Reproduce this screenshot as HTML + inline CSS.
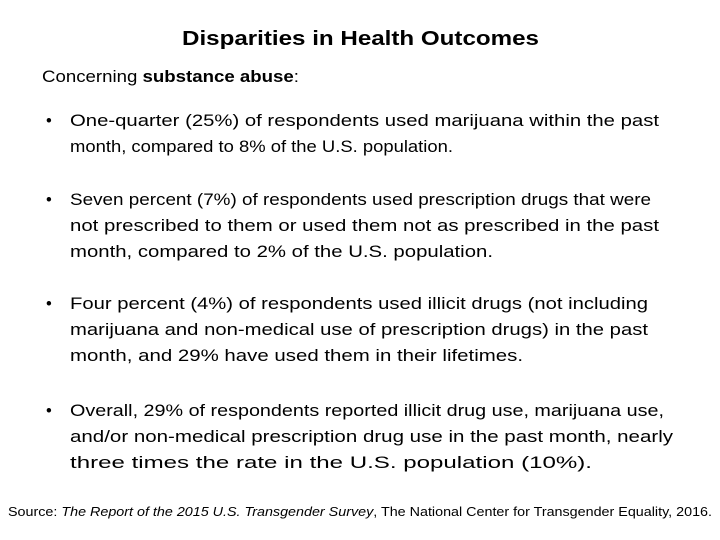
<!DOCTYPE html>
<html><head><meta charset="utf-8"><style>
html,body{margin:0;padding:0;background:#fff;}
svg{display:block;}
text{font-family:"Liberation Sans",sans-serif;fill:#000;}
</style></head><body>
<svg width="720" height="540" viewBox="0 0 720 540">
<text x="182" y="45" font-size="20.5" font-weight="bold" textLength="357" lengthAdjust="spacingAndGlyphs">Disparities in Health Outcomes</text>
<text x="42" y="82" font-size="16.5" textLength="257" lengthAdjust="spacingAndGlyphs">Concerning <tspan font-weight="bold">substance abuse</tspan>:</text>
<g font-size="16.5">
<text x="46" y="126">•</text>
<text x="70" y="126" textLength="589" lengthAdjust="spacingAndGlyphs">One-quarter (25%) of respondents used marijuana within the past</text>
<text x="70" y="152" textLength="383" lengthAdjust="spacingAndGlyphs">month, compared to 8% of the U.S. population.</text>
</g>
<g font-size="16.5">
<text x="46" y="205">•</text>
<text x="70" y="205" textLength="581" lengthAdjust="spacingAndGlyphs">Seven percent (7%) of respondents used prescription drugs that were</text>
<text x="70" y="231" textLength="589" lengthAdjust="spacingAndGlyphs">not prescribed to them or used them not as prescribed in the past</text>
<text x="70" y="257" textLength="423" lengthAdjust="spacingAndGlyphs">month, compared to 2% of the U.S. population.</text>
</g>
<g font-size="16.5">
<text x="46" y="309">•</text>
<text x="70" y="309" textLength="578" lengthAdjust="spacingAndGlyphs">Four percent (4%) of respondents used illicit drugs (not including</text>
<text x="70" y="335" textLength="578" lengthAdjust="spacingAndGlyphs">marijuana and non-medical use of prescription drugs) in the past</text>
<text x="70" y="361" textLength="453" lengthAdjust="spacingAndGlyphs">month, and 29% have used them in their lifetimes.</text>
</g>
<g font-size="16.5">
<text x="46" y="416">•</text>
<text x="70" y="416" textLength="594" lengthAdjust="spacingAndGlyphs">Overall, 29% of respondents reported illicit drug use, marijuana use,</text>
<text x="70" y="442" textLength="603" lengthAdjust="spacingAndGlyphs">and/or non-medical prescription drug use in the past month, nearly</text>
<text x="70" y="468" textLength="522" lengthAdjust="spacingAndGlyphs">three times the rate in the U.S. population (10%).</text>
</g>
<text x="8" y="516" font-size="13" textLength="704" lengthAdjust="spacingAndGlyphs">Source:  <tspan font-style="italic">The Report of the 2015 U.S. Transgender Survey</tspan>, The National Center for Transgender Equality, 2016.</text>
</svg>
</body></html>
